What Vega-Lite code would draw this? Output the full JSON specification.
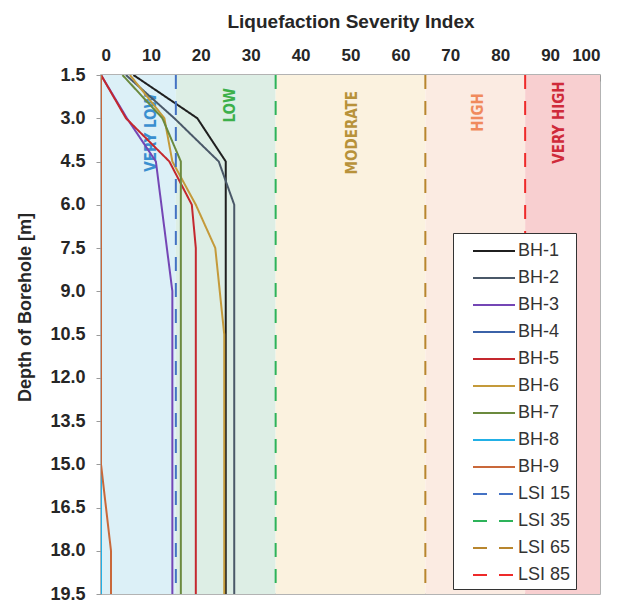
{
  "$schema": "https://vega.github.io/schema/vega-lite/v6.json",
  "width": 499,
  "height": 519,
  "autosize": {"type": "none"},
  "padding": {"left": 101, "top": 75, "right": 24, "bottom": 7},
  "background": "white",
  "config": {
    "view": {"stroke": "#9a9a9a", "strokeWidth": 1.5},
    "axis": {
      "labelFont": "Liberation Sans",
      "labelFontWeight": "bold",
      "labelFontSize": 17,
      "labelColor": "#262626",
      "titleFont": "Liberation Sans",
      "titleFontWeight": "bold",
      "titleFontSize": 19,
      "titleColor": "#262626",
      "domainColor": "#9a9a9a",
      "tickColor": "#9a9a9a",
      "grid": false
    }
  },
  "datasets": {
    "zones": [
      {"a": 0, "b": 15, "f": "#dcf0f7"},
      {"a": 15, "b": 35, "f": "#ddeee5"},
      {"a": 35, "b": 65, "f": "#fbf2df"},
      {"a": 65, "b": 85, "f": "#fbebe2"},
      {"a": 85, "b": 100, "f": "#f8cfd0"}
    ],
    "labels": [
      {"t": "VERY LOW", "v": 10, "d": 3.5, "c": "#3a8fd0"},
      {"t": "LOW", "v": 25.8, "d": 2.55, "c": "#3cb04a"},
      {"t": "MODERATE", "v": 50.3, "d": 3.5, "c": "#b8923a"},
      {"t": "HIGH", "v": 75.6, "d": 2.8, "c": "#f08a5d"},
      {"t": "VERY HIGH", "v": 91.8, "d": 3.15, "c": "#cf2a3a"}
    ],
    "lines": [
      {"s": "BH-1", "d": 1.5, "v": 6.5}, {"s": "BH-1", "d": 3.0, "v": 19.3}, {"s": "BH-1", "d": 4.5, "v": 25.0}, {"s": "BH-1", "d": 6.0, "v": 25.0}, {"s": "BH-1", "d": 7.5, "v": 25.0}, {"s": "BH-1", "d": 9.0, "v": 25.0}, {"s": "BH-1", "d": 10.5, "v": 25.0}, {"s": "BH-1", "d": 12.0, "v": 25.0}, {"s": "BH-1", "d": 13.5, "v": 25.0}, {"s": "BH-1", "d": 15.0, "v": 25.0}, {"s": "BH-1", "d": 16.5, "v": 25.0}, {"s": "BH-1", "d": 18.0, "v": 25.0}, {"s": "BH-1", "d": 19.5, "v": 25.0},
      {"s": "BH-2", "d": 1.5, "v": 5.0}, {"s": "BH-2", "d": 3.0, "v": 14.7}, {"s": "BH-2", "d": 4.5, "v": 23.6}, {"s": "BH-2", "d": 6.0, "v": 26.7}, {"s": "BH-2", "d": 7.5, "v": 26.7}, {"s": "BH-2", "d": 9.0, "v": 26.7}, {"s": "BH-2", "d": 10.5, "v": 26.7}, {"s": "BH-2", "d": 12.0, "v": 26.7}, {"s": "BH-2", "d": 13.5, "v": 26.7}, {"s": "BH-2", "d": 15.0, "v": 26.7}, {"s": "BH-2", "d": 16.5, "v": 26.7}, {"s": "BH-2", "d": 18.0, "v": 26.7}, {"s": "BH-2", "d": 19.5, "v": 26.7},
      {"s": "BH-3", "d": 1.5, "v": 0}, {"s": "BH-3", "d": 3.0, "v": 5.2}, {"s": "BH-3", "d": 4.5, "v": 11.0}, {"s": "BH-3", "d": 6.0, "v": 12.1}, {"s": "BH-3", "d": 7.5, "v": 13.2}, {"s": "BH-3", "d": 9.0, "v": 14.3}, {"s": "BH-3", "d": 10.5, "v": 14.3}, {"s": "BH-3", "d": 12.0, "v": 14.3}, {"s": "BH-3", "d": 13.5, "v": 14.3}, {"s": "BH-3", "d": 15.0, "v": 14.3}, {"s": "BH-3", "d": 16.5, "v": 14.3}, {"s": "BH-3", "d": 18.0, "v": 14.3}, {"s": "BH-3", "d": 19.5, "v": 14.3},
      {"s": "BH-4", "d": 1.5, "v": 0}, {"s": "BH-4", "d": 3.0, "v": 0}, {"s": "BH-4", "d": 4.5, "v": 0}, {"s": "BH-4", "d": 6.0, "v": 0}, {"s": "BH-4", "d": 7.5, "v": 0}, {"s": "BH-4", "d": 9.0, "v": 0}, {"s": "BH-4", "d": 10.5, "v": 0}, {"s": "BH-4", "d": 12.0, "v": 0}, {"s": "BH-4", "d": 13.5, "v": 0}, {"s": "BH-4", "d": 15.0, "v": 0}, {"s": "BH-4", "d": 16.5, "v": 0}, {"s": "BH-4", "d": 18.0, "v": 0}, {"s": "BH-4", "d": 19.5, "v": 0},
      {"s": "BH-5", "d": 1.5, "v": 0}, {"s": "BH-5", "d": 3.0, "v": 5.0}, {"s": "BH-5", "d": 4.5, "v": 13.7}, {"s": "BH-5", "d": 6.0, "v": 18.2}, {"s": "BH-5", "d": 7.5, "v": 19.0}, {"s": "BH-5", "d": 9.0, "v": 19.0}, {"s": "BH-5", "d": 10.5, "v": 19.0}, {"s": "BH-5", "d": 12.0, "v": 19.0}, {"s": "BH-5", "d": 13.5, "v": 19.0}, {"s": "BH-5", "d": 15.0, "v": 19.0}, {"s": "BH-5", "d": 16.5, "v": 19.0}, {"s": "BH-5", "d": 18.0, "v": 19.0}, {"s": "BH-5", "d": 19.5, "v": 19.0},
      {"s": "BH-6", "d": 1.5, "v": 5.8}, {"s": "BH-6", "d": 3.0, "v": 12.7}, {"s": "BH-6", "d": 4.5, "v": 14.3}, {"s": "BH-6", "d": 6.0, "v": 19.0}, {"s": "BH-6", "d": 7.5, "v": 22.9}, {"s": "BH-6", "d": 9.0, "v": 23.8}, {"s": "BH-6", "d": 10.5, "v": 24.7}, {"s": "BH-6", "d": 12.0, "v": 24.7}, {"s": "BH-6", "d": 13.5, "v": 24.7}, {"s": "BH-6", "d": 15.0, "v": 24.7}, {"s": "BH-6", "d": 16.5, "v": 24.7}, {"s": "BH-6", "d": 18.0, "v": 24.7}, {"s": "BH-6", "d": 19.5, "v": 24.7},
      {"s": "BH-7", "d": 1.5, "v": 4.3}, {"s": "BH-7", "d": 3.0, "v": 12.3}, {"s": "BH-7", "d": 4.5, "v": 16.0}, {"s": "BH-7", "d": 6.0, "v": 16.0}, {"s": "BH-7", "d": 7.5, "v": 16.0}, {"s": "BH-7", "d": 9.0, "v": 16.0}, {"s": "BH-7", "d": 10.5, "v": 16.0}, {"s": "BH-7", "d": 12.0, "v": 16.0}, {"s": "BH-7", "d": 13.5, "v": 16.0}, {"s": "BH-7", "d": 15.0, "v": 16.0}, {"s": "BH-7", "d": 16.5, "v": 16.0}, {"s": "BH-7", "d": 18.0, "v": 16.0}, {"s": "BH-7", "d": 19.5, "v": 16.0},
      {"s": "BH-8", "d": 1.5, "v": 0}, {"s": "BH-8", "d": 3.0, "v": 0}, {"s": "BH-8", "d": 4.5, "v": 0}, {"s": "BH-8", "d": 6.0, "v": 0}, {"s": "BH-8", "d": 7.5, "v": 0}, {"s": "BH-8", "d": 9.0, "v": 0}, {"s": "BH-8", "d": 10.5, "v": 0}, {"s": "BH-8", "d": 12.0, "v": 0}, {"s": "BH-8", "d": 13.5, "v": 0}, {"s": "BH-8", "d": 15.0, "v": 0}, {"s": "BH-8", "d": 16.5, "v": 0}, {"s": "BH-8", "d": 18.0, "v": 0}, {"s": "BH-8", "d": 19.5, "v": 0},
      {"s": "BH-9", "d": 1.5, "v": 0}, {"s": "BH-9", "d": 3.0, "v": 0}, {"s": "BH-9", "d": 4.5, "v": 0}, {"s": "BH-9", "d": 6.0, "v": 0}, {"s": "BH-9", "d": 7.5, "v": 0}, {"s": "BH-9", "d": 9.0, "v": 0}, {"s": "BH-9", "d": 10.5, "v": 0}, {"s": "BH-9", "d": 12.0, "v": 0}, {"s": "BH-9", "d": 13.5, "v": 0}, {"s": "BH-9", "d": 15.0, "v": 0}, {"s": "BH-9", "d": 16.5, "v": 1.0}, {"s": "BH-9", "d": 18.0, "v": 2.0}, {"s": "BH-9", "d": 19.5, "v": 2.0},
      {"s": "LSI 15", "d": 1.5, "v": 15}, {"s": "LSI 15", "d": 19.5, "v": 15},
      {"s": "LSI 35", "d": 1.5, "v": 35}, {"s": "LSI 35", "d": 19.5, "v": 35},
      {"s": "LSI 65", "d": 1.5, "v": 65}, {"s": "LSI 65", "d": 19.5, "v": 65},
      {"s": "LSI 85", "d": 1.5, "v": 85}, {"s": "LSI 85", "d": 19.5, "v": 85}
    ]
  },
  "layer": [
    {
      "data": {"name": "zones"},
      "mark": {"type": "rect"},
      "encoding": {
        "x": {
          "field": "a", "type": "quantitative",
          "title": "Liquefaction Severity Index",
          "scale": {"domain": [0, 100], "nice": false, "zero": true},
          "axis": {
            "orient": "top",
            "values": [0, 10, 20, 30, 40, 50, 60, 70, 80, 90, 100],
            "tickSize": -6,
            "labelPadding": 17,
            "titlePadding": 15
          }
        },
        "x2": {"field": "b"},
        "fill": {"field": "f", "type": "nominal", "scale": null}
      }
    },
    {
      "data": {"name": "labels"},
      "mark": {"type": "text", "angle": 270, "align": "center", "baseline": "middle", "font": "DejaVu Sans Condensed, Roboto Condensed, Roboto", "fontWeight": "bold", "fontSize": 15},
      "encoding": {
        "x": {"field": "v", "type": "quantitative", "title": "Liquefaction Severity Index"},
        "y": {
          "field": "d", "type": "quantitative",
          "title": "Depth of Borehole [m]",
          "scale": {"domain": [1.5, 19.5], "reverse": true, "nice": false, "zero": false},
          "axis": {
            "values": [1.5, 3, 4.5, 6, 7.5, 9, 10.5, 12, 13.5, 15, 16.5, 18, 19.5],
            "format": ".1f",
            "tickSize": 5,
            "labelPadding": 11,
            "labelFontSize": 18,
            "titleX": -76,
            "titleY": 232,
            "titleBaseline": "middle",
            "titleAlign": "center",
            "titleFontSize": 18
          }
        },
        "text": {"field": "t"},
        "fill": {"field": "c", "type": "nominal", "scale": null}
      }
    },
    {
      "data": {"name": "lines"},
      "mark": {"type": "line", "clip": true},
      "encoding": {
        "x": {"field": "v", "type": "quantitative", "title": "Liquefaction Severity Index"},
        "y": {"field": "d", "type": "quantitative", "title": "Depth of Borehole [m]"},
        "order": {"field": "d", "type": "quantitative"},
        "color": {
          "field": "s", "type": "nominal",
          "scale": {
            "domain": ["BH-1", "BH-2", "BH-3", "BH-4", "BH-5", "BH-6", "BH-7", "BH-8", "BH-9", "LSI 15", "LSI 35", "LSI 65", "LSI 85"],
            "range": ["#1f1f1f", "#4a5868", "#7446b5", "#3b62a8", "#c4282e", "#c49a3a", "#6b8a3e", "#22b0e6", "#c9683a", "#4472c4", "#2db35a", "#b8862e", "#ee2a2a"]
          },
          "legend": {
            "title": null,
            "orient": "none",
            "legendX": 352,
            "legendY": 158,
            "symbolType": "M-1.75,0H1.75",
            "symbolSize": 576,
            "symbolOffset": 23,
            "labelOffset": 11,
            "labelExpr": "datum.label + '   '",
            "labelFont": "Liberation Sans",
            "labelFontSize": 18,
            "labelColor": "#333333",
            "rowPadding": 5,
            "fillColor": "white",
            "strokeColor": "#333333",
            "padding": 5,
            "offset": 0,
            "encode": {
              "symbols": {
                "update": {
                  "strokeWidth": {"signal": "indexof(datum.value, 'LSI') >= 0 ? 4 : 2.5"}
                }
              }
            }
          }
        },
        "strokeDash": {
          "field": "s", "type": "nominal",
          "scale": {
            "domain": ["BH-1", "BH-2", "BH-3", "BH-4", "BH-5", "BH-6", "BH-7", "BH-8", "BH-9", "LSI 15", "LSI 35", "LSI 65", "LSI 85"],
            "range": [[1, 0], [1, 0], [1, 0], [1, 0], [1, 0], [1, 0], [1, 0], [1, 0], [1, 0], [14, 12], [14, 12], [14, 12], [14, 12]]
          },
          "legend": {"title": null}
        },
        "strokeWidth": {
          "field": "s", "type": "nominal",
          "scale": {
            "domain": ["BH-1", "BH-2", "BH-3", "BH-4", "BH-5", "BH-6", "BH-7", "BH-8", "BH-9", "LSI 15", "LSI 35", "LSI 65", "LSI 85"],
            "range": [2, 2, 2, 2, 2, 2, 2, 2, 2, 4, 4, 4, 4]
          },
          "legend": {"title": null}
        }
      }
    }
  ]
}
